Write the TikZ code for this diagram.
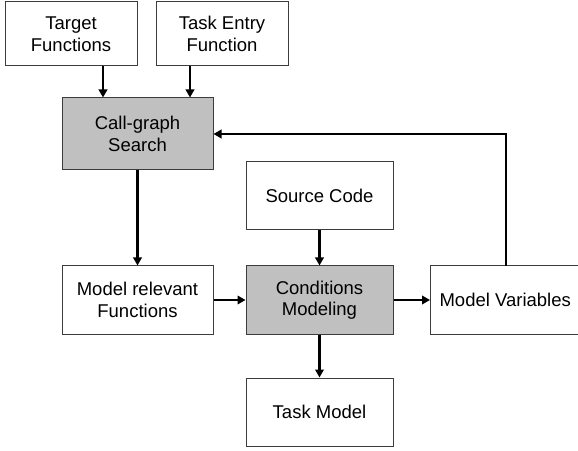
\documentclass[tikz,border=0pt]{standalone}
\usepackage{fontspec}
\setmainfont{Liberation Sans}
\usetikzlibrary{arrows.meta, positioning, calc}
\usepackage{xcolor}
\definecolor{mgrey}{RGB}{192,192,192}
\definecolor{mline}{RGB}{60,60,60}

\begin{document}
\begin{tikzpicture}[x=1pt,y=1pt,
    box/.style={draw=mline,line width=1pt,fill=white,align=center,
      font=\fontsize{18.5}{21.5}\selectfont,inner sep=0pt},
    grey/.style={box,fill=mgrey},
    arr/.style={line width=2.2pt,-{Triangle[length=8pt,width=8.5pt]}}]
  \useasboundingbox (0,0) rectangle (578,450);
  % inputs
  \node[box,minimum width=132,minimum height=64] (tgt) at (71,416) {Target\\Functions};
  \node[box,minimum width=132,minimum height=64] (entry) at (222,416) {Task Entry\\Function};
  % search
  \node[grey,minimum width=151,minimum height=72] (search) at (137.5,316) {Call-graph\\Search};
  \node[box,minimum width=151,minimum height=68] (relevant) at (137.5,150) {Model relevant\\Functions};
  % modeling
  \node[box,minimum width=147,minimum height=68] (src) at (319.5,254) {Source Code};
  \node[grey,minimum width=147,minimum height=68] (cond) at (319.5,150) {Conditions\\Modeling};
  \node[box,minimum width=147,minimum height=68] (task) at (319.5,38) {Task Model};
  % open to the right, cut by the page edge
  \node[minimum height=68,minimum width=150,inner sep=0pt,anchor=west,
    font=\fontsize{18.5}{21.5}\selectfont] (vars) at (430,150) {Model Variables};
  \draw[mline,line width=1pt] (vars.south east) -- (vars.south west)
    -- (vars.north west) -- (vars.north east);
  \coordinate (back) at (506,150);
  % connectors
  \draw[arr] ([xshift=32pt]tgt.south) -- ([xshift=32pt]tgt.south |- search.north);
  \draw[arr] ([xshift=-32pt]entry.south) -- ([xshift=-32pt]entry.south |- search.north);
  \draw[arr] (search.south) -- (relevant.north);
  \draw[arr] (relevant.east) -- (cond.west);
  \draw[arr] (src.south) -- (cond.north);
  \draw[arr] (cond.east) -- (vars.west);
  \draw[arr] (cond.south) -- (task.north);
  % feedback
  \draw[arr] (back |- vars.north) |- (search.east);
\end{tikzpicture}
\end{document}
